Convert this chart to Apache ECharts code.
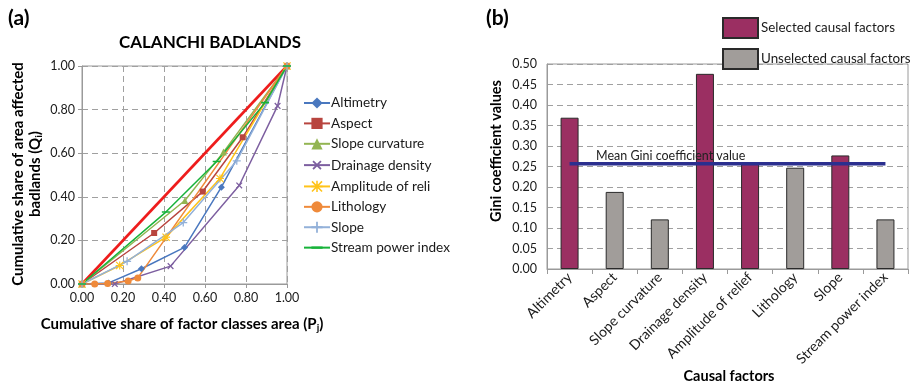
<!DOCTYPE html>
<html>
<head>
<meta charset="utf-8">
<script src="https://cdn.jsdelivr.net/npm/echarts@6/dist/echarts.min.js"></script>
<style>
  html, body { margin: 0; padding: 0; background: #fff; }
  #chart { width: 919px; height: 385px; }
</style>
</head>
<body>
<div id="chart"></div>
<script>
// ---- (a) Lorenz curves: [cumulative share of class area, cumulative share of badland area]
const lorenzNames = ['Altimetry', 'Aspect', 'Slope curvature', 'Drainage density',
  'Amplitude of reli', 'Lithology', 'Slope', 'Stream power index'];
const altimetry = [[0, 0], [0.13, 0.005], [0.29, 0.07], [0.50, 0.168], [0.68, 0.444], [1, 1]];
const aspect = [[0, 0], [0.352, 0.234], [0.589, 0.424], [0.784, 0.673], [1, 1]];
const slopeCurvature = [[0, 0], [0.502, 0.383], [0.69, 0.605], [1, 1]];
const drainageDensity = [[0, 0], [0.16, 0.0], [0.432, 0.082], [0.767, 0.452], [0.954, 0.817], [1, 1]];
const amplitudeRelief = [[0, 0], [0.184, 0.085], [0.41, 0.215], [0.673, 0.484], [1, 1]];
const lithology = [[0, 0], [0.062, 0.0], [0.125, 0.002], [0.225, 0.014], [0.272, 0.028], [1, 1]];
const slope = [[0, 0], [0.22, 0.104], [0.494, 0.282], [0.755, 0.565], [1, 1]];
const streamPower = [[0, 0], [0.409, 0.33], [0.657, 0.562], [0.893, 0.832], [1, 1]];
const equalityLine = [[0, 0], [1, 1]];

// ---- (b) Gini coefficients per causal factor
const factors = ['Altimetry', 'Aspect', 'Slope curvature', 'Drainage density',
  'Amplitude of relief', 'Lithology', 'Slope', 'Stream power index'];
const selectedGini = [0.369, '-', '-', 0.476, 0.258, '-', 0.277, '-'];
const unselectedGini = ['-', 0.188, 0.121, '-', '-', 0.247, '-', 0.121];
const meanGini = 0.257;

const FONT = 'Lato';
const TXT = '#1a1a1a';
const GRID_LINE = { lineStyle: { color: '#a0a0a0', type: [6, 4], width: 1 } };

// Marker shapes; the tiny corner squares keep the symbol box square so legend icons keep their shape
const corners = ' M0,0h0.01v0.01h-0.01Z M9.99,9.99h0.01v0.01h-0.01Z';
const plusPath = 'path://M4.2,0H5.8V4.2H10V5.8H5.8V10H4.2V5.8H0V4.2H4.2Z';
const starPath = 'path://M4.3,0H5.7V4.3H10V5.7H5.7V10H4.3V5.7H0V4.3H4.3Z M1,0L10,9L9,10L0,1Z M9,0L10,1L1,10L0,9Z';
const dashPath = 'path://M0,4H10V6H0Z' + corners;

const lorenzStyles = [
  { data: altimetry, color: '#4a78bf', symbol: 'diamond', size: 7 },
  { data: aspect, color: '#b8453f', symbol: 'rect', size: 6 },
  { data: slopeCurvature, color: '#93b552', symbol: 'triangle', size: 7 },
  { data: drainageDensity, color: '#7d5fa0', symbol: plusPath, size: 8, rotate: 45 },
  { data: amplitudeRelief, color: '#ffc31a', symbol: starPath, size: 8 },
  { data: lithology, color: '#ef8a3a', symbol: 'circle', size: 7 },
  { data: slope, color: '#93b1d9', symbol: plusPath, size: 8 },
  { data: streamPower, color: '#17b33a', symbol: dashPath, size: 8 }
];

const lorenzSeries = lorenzStyles.map((s, i) => ({
  name: lorenzNames[i],
  type: 'line',
  xAxisIndex: 0,
  yAxisIndex: 0,
  data: s.data,
  symbol: s.symbol,
  symbolSize: s.size,
  symbolRotate: s.rotate || 0,
  showAllSymbol: true,
  color: s.color,
  lineStyle: { color: s.color, width: 1.5 },
  itemStyle: { color: s.color },
  emphasis: { disabled: true },
  animation: false
}));

lorenzSeries.push({
  name: 'Equality',
  type: 'line',
  xAxisIndex: 0,
  yAxisIndex: 0,
  data: equalityLine,
  symbol: 'none',
  lineStyle: { color: '#ee1c1c', width: 2.6 },
  z: 1,
  animation: false
});

const chart = echarts.init(document.getElementById('chart'), null, { renderer: 'canvas' });

chart.setOption({
  backgroundColor: '#ffffff',
  textStyle: { fontFamily: FONT, color: TXT },
  animation: false,
  grid: [
    { left: 82, top: 66, width: 205, height: 218, show: true, borderColor: '#9a9a9a', borderWidth: 1, backgroundColor: 'transparent' },
    { left: 547, top: 64, width: 361, height: 205, show: true, borderColor: '#9a9a9a', borderWidth: 1, backgroundColor: 'transparent' }
  ],
  legend: [
    {
      data: lorenzNames,
      orient: 'vertical',
      left: 298,
      top: 91,
      itemWidth: 26,
      itemHeight: 14,
      itemGap: 6.4,
      textStyle: { fontFamily: FONT, fontSize: 13.6, color: TXT, padding: [0, 0, 0, -4] },
      selectedMode: false
    },
    {
      data: ['Selected causal factors', 'Unselected causal factors'],
      orient: 'vertical',
      left: 717,
      top: 12,
      itemWidth: 35,
      itemHeight: 20,
      itemGap: 9,
      icon: 'rect',
      textStyle: { fontFamily: FONT, fontSize: 13.4, color: TXT, padding: [0, 0, 0, -2] },
      selectedMode: false
    }
  ],
  xAxis: [
    {
      gridIndex: 0,
      type: 'value',
      min: 0,
      max: 1,
      interval: 0.2,
      axisLine: { show: true, onZero: false, lineStyle: { color: '#9a9a9a' } },
      axisTick: { show: true, length: 4, lineStyle: { color: '#9a9a9a' } },
      axisLabel: { fontSize: 12.5, color: TXT, margin: 7, formatter: v => v.toFixed(2) },
      splitLine: Object.assign({ show: true }, GRID_LINE)
    },
    {
      gridIndex: 1,
      type: 'category',
      data: factors,
      axisLine: { show: true, lineStyle: { color: '#9a9a9a' } },
      axisTick: { show: true, length: 5, alignWithLabel: false, lineStyle: { color: '#9a9a9a' } },
      axisLabel: { rotate: 45, fontSize: 14, color: TXT, margin: 6, interval: 0 },
      splitLine: { show: false }
    }
  ],
  yAxis: [
    {
      gridIndex: 0,
      type: 'value',
      min: 0,
      max: 1,
      interval: 0.2,
      axisLine: { show: true, lineStyle: { color: '#9a9a9a' } },
      axisTick: { show: true, length: 4, lineStyle: { color: '#9a9a9a' } },
      axisLabel: { fontSize: 12.5, color: TXT, margin: 7, formatter: v => v.toFixed(2) },
      splitLine: Object.assign({ show: true }, GRID_LINE)
    },
    {
      gridIndex: 1,
      type: 'value',
      min: 0,
      max: 0.5,
      interval: 0.05,
      axisLine: { show: true, lineStyle: { color: '#9a9a9a' } },
      axisTick: { show: false },
      axisLabel: { fontSize: 12.5, color: TXT, margin: 10, formatter: v => v.toFixed(2) },
      splitLine: Object.assign({ show: true }, GRID_LINE)
    }
  ],
  series: lorenzSeries.concat([
    {
      name: 'Selected causal factors',
      type: 'bar',
      xAxisIndex: 1,
      yAxisIndex: 1,
      stack: 'gini',
      data: selectedGini,
      barWidth: 18,
      itemStyle: { color: '#9b2f62', borderColor: '#2a2a2a', borderWidth: 1 },
      emphasis: { disabled: true }
    },
    {
      name: 'Unselected causal factors',
      type: 'bar',
      xAxisIndex: 1,
      yAxisIndex: 1,
      stack: 'gini',
      data: unselectedGini,
      barWidth: 18,
      itemStyle: { color: '#a19d9a', borderColor: '#2a2a2a', borderWidth: 1 },
      emphasis: { disabled: true }
    },
    {
      name: 'Mean Gini coefficient value',
      type: 'line',
      xAxisIndex: 1,
      yAxisIndex: 1,
      data: factors.map(() => meanGini),
      symbol: 'none',
      lineStyle: { color: '#2b2f8f', width: 3.5 },
      z: 5
    }
  ]),
  graphic: [
    { type: 'text', x: 8, y: 8, style: { text: '(a)', font: 'bold 21px ' + FONT, fill: '#000' } },
    { type: 'text', x: 486, y: 8, style: { text: '(b)', font: 'bold 21px ' + FONT, fill: '#000' } },
    { type: 'text', x: 210, y: 43, style: { text: 'CALANCHI BADLANDS', font: 'bold 17px ' + FONT, fill: '#000', align: 'center', verticalAlign: 'middle' } },
    {
      type: 'text', x: 27, y: 174, rotation: Math.PI / 2,
      style: {
        text: 'Cumulative share of area affected\nbadlands (Q{s|i})',
        font: 'bold 15px ' + FONT, fill: '#000', align: 'center', verticalAlign: 'middle', lineHeight: 17,
        rich: { s: { font: 'bold 10px ' + FONT, fill: '#000', verticalAlign: 'bottom', lineHeight: 17, padding: [5, 0, 0, 0] } }
      }
    },
    {
      type: 'text', x: 182, y: 324,
      style: {
        text: 'Cumulative share of factor classes area (P{s|j})',
        font: 'bold 15px ' + FONT, fill: '#000', align: 'center', verticalAlign: 'middle', lineHeight: 17,
        rich: { s: { font: 'bold 10px ' + FONT, fill: '#000', verticalAlign: 'bottom', lineHeight: 17, padding: [5, 0, 0, 0] } }
      }
    },
    {
      type: 'text', x: 496, y: 151, rotation: Math.PI / 2,
      style: { text: 'Gini coefficient values', font: 'bold 14.5px ' + FONT, fill: '#000', align: 'center', verticalAlign: 'middle' }
    },
    {
      type: 'text', x: 729, y: 376,
      style: { text: 'Causal factors', font: 'bold 14.5px ' + FONT, fill: '#000', align: 'center', verticalAlign: 'middle' }
    },
    {
      type: 'text', x: 596, y: 156, z: 10,
      style: { text: 'Mean Gini coefficient value', font: '12.5px ' + FONT, fill: '#222', align: 'left', verticalAlign: 'middle' }
    }
  ]
});
</script>
</body>
</html>
